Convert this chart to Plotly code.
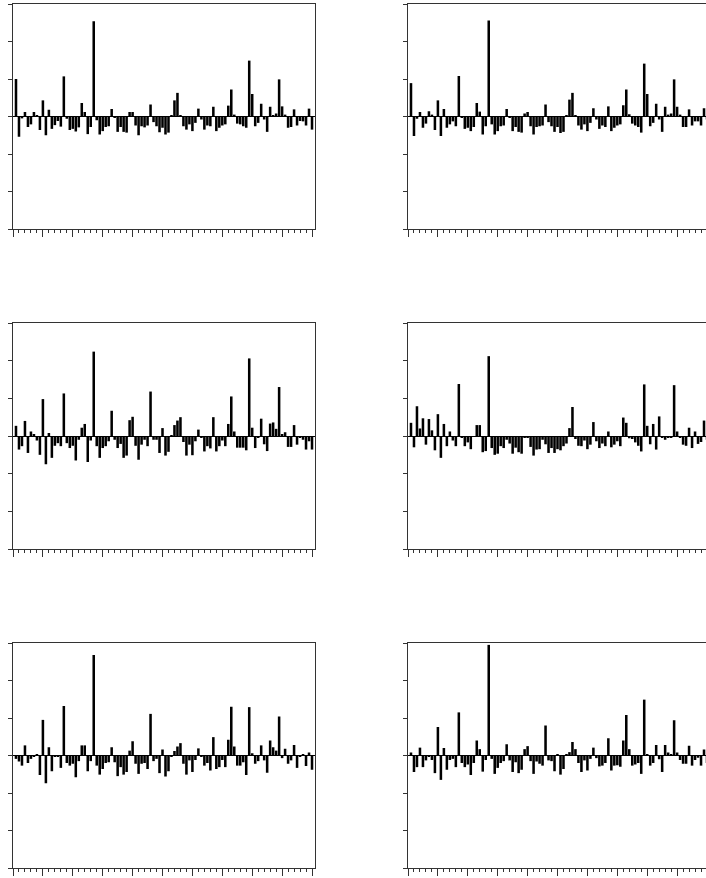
import plotly.graph_objects as go

# ---- data ----
periods = list(range(100))

panel_a = [1.0, -0.54, -0.05, 0.12, -0.28, -0.21, 0.12, 0.03, -0.36, 0.43,
           -0.5, 0.18, -0.33, -0.23, -0.12, -0.27, 1.07, -0.06, -0.36, -0.33,
           -0.4, -0.29, 0.36, 0.12, -0.47, -0.28, 2.54, -0.1, -0.48, -0.39,
           -0.28, -0.26, 0.2, -0.02, -0.41, -0.28, -0.41, -0.43, 0.12, 0.12,
           -0.24, -0.5, -0.26, -0.29, -0.24, 0.32, -0.15, -0.26, -0.42, -0.3,
           -0.48, -0.43, 0.03, 0.43, 0.63, 0.02, -0.26, -0.35, -0.21, -0.39,
           -0.17, 0.21, -0.08, -0.35, -0.24, -0.26, 0.26, -0.39, -0.3, -0.24,
           -0.21, 0.29, 0.72, 0.05, -0.19, -0.21, -0.26, -0.3, 1.49, 0.6,
           -0.26, -0.17, 0.34, -0.08, -0.41, 0.26, 0.03, 0.08, 0.99, 0.27,
           0.05, -0.3, -0.28, 0.19, -0.24, -0.12, -0.13, -0.24, 0.21, -0.35]

panel_b = [0.89, -0.52, -0.06, 0.12, -0.3, -0.19, 0.14, 0.05, -0.36, 0.43,
           -0.52, 0.2, -0.3, -0.21, -0.13, -0.26, 1.08, -0.04, -0.33, -0.3,
           -0.39, -0.28, 0.36, 0.13, -0.48, -0.26, 2.56, -0.21, -0.48, -0.39,
           -0.26, -0.24, 0.2, -0.02, -0.39, -0.28, -0.41, -0.43, 0.08, 0.12,
           -0.26, -0.48, -0.28, -0.26, -0.24, 0.32, -0.15, -0.26, -0.41, -0.28,
           -0.44, -0.41, 0.04, 0.45, 0.63, 0.02, -0.24, -0.35, -0.21, -0.39,
           -0.17, 0.22, -0.08, -0.33, -0.24, -0.28, 0.27, -0.39, -0.3, -0.24,
           -0.21, 0.3, 0.72, 0.06, -0.19, -0.24, -0.28, -0.43, 1.41, 0.6,
           -0.26, -0.17, 0.34, -0.08, -0.41, 0.26, 0.05, 0.08, 0.99, 0.26,
           0.05, -0.28, -0.28, 0.19, -0.24, -0.13, -0.13, -0.24, 0.22, -0.08]

panel_c = [0.27, -0.36, -0.27, 0.4, -0.45, 0.12, 0.04, -0.12, -0.5, 0.98,
           -0.75, 0.08, -0.58, -0.26, -0.19, -0.27, 1.13, -0.19, -0.32, -0.26,
           -0.65, -0.1, 0.22, 0.32, -0.69, -0.12, 2.24, -0.27, -0.58, -0.32,
           -0.27, -0.14, 0.67, -0.1, -0.32, -0.21, -0.58, -0.52, 0.42, 0.51,
           -0.26, -0.63, -0.23, -0.1, -0.27, 1.18, -0.1, -0.1, -0.45, 0.21,
           -0.52, -0.42, 0.02, 0.29, 0.41, 0.5, -0.16, -0.52, -0.23, -0.51,
           -0.14, 0.17, -0.05, -0.41, -0.27, -0.33, 0.5, -0.41, -0.27, -0.12,
           -0.27, 0.32, 1.05, 0.12, -0.31, -0.31, -0.31, -0.38, 2.06, 0.22,
           -0.32, -0.05, 0.46, -0.22, -0.4, 0.33, 0.36, 0.19, 1.3, 0.05,
           0.1, -0.29, -0.29, 0.29, -0.23, -0.05, -0.1, -0.36, -0.14, -0.36]

panel_d = [0.35, -0.3, 0.79, 0.2, 0.47, -0.23, 0.45, 0.15, -0.38, 0.58,
           -0.58, 0.32, -0.27, 0.12, -0.12, -0.27, 1.38, -0.04, -0.27, -0.17,
           -0.35, 0.0, 0.29, 0.29, -0.43, -0.4, 2.12, -0.32, -0.5, -0.47,
           -0.27, -0.32, -0.1, -0.2, -0.47, -0.31, -0.43, -0.47, -0.05, -0.05,
           -0.29, -0.52, -0.36, -0.35, -0.1, -0.22, -0.45, -0.32, -0.45, -0.35,
           -0.38, -0.27, -0.2, 0.21, 0.77, -0.08, -0.26, -0.27, -0.12, -0.35,
           -0.23, 0.37, -0.14, -0.32, -0.2, -0.27, 0.12, -0.3, -0.23, -0.14,
           -0.27, 0.49, 0.35, -0.06, -0.08, -0.17, -0.26, -0.41, 1.37, 0.27,
           -0.22, 0.32, -0.36, 0.52, -0.04, -0.1, -0.05, -0.04, 1.35, 0.12,
           -0.05, -0.23, -0.26, 0.22, -0.32, 0.12, -0.21, -0.16, 0.41, -0.1]

panel_e = [-0.09, -0.16, -0.27, 0.27, -0.2, -0.09, -0.04, 0.04, -0.52, 0.95,
           -0.74, 0.22, -0.42, -0.03, -0.03, -0.33, 1.32, -0.2, -0.27, -0.22,
           -0.58, -0.15, 0.27, 0.27, -0.42, -0.15, 2.68, -0.27, -0.51, -0.36,
           -0.2, -0.18, 0.22, -0.18, -0.55, -0.31, -0.51, -0.44, 0.13, 0.38,
           -0.22, -0.49, -0.22, -0.2, -0.36, 1.11, -0.15, -0.09, -0.47, 0.16,
           -0.56, -0.42, -0.04, 0.12, 0.24, 0.33, -0.22, -0.51, -0.13, -0.44,
           -0.12, 0.19, -0.04, -0.27, -0.2, -0.4, 0.49, -0.36, -0.31, -0.12,
           -0.31, 0.42, 1.3, 0.24, -0.27, -0.27, -0.18, -0.52, 1.29, 0.06,
           -0.22, -0.15, 0.27, -0.13, -0.46, 0.4, 0.22, 0.13, 1.04, -0.07,
           0.18, -0.22, -0.13, 0.28, -0.33, -0.04, 0.03, -0.28, 0.08, -0.38]

panel_f = [0.08, -0.44, -0.31, 0.21, -0.31, -0.13, -0.04, -0.12, -0.47, 0.76,
           -0.65, 0.2, -0.38, -0.12, -0.09, -0.31, 1.15, -0.2, -0.31, -0.24,
           -0.52, -0.2, 0.4, 0.17, -0.43, -0.12, 2.95, -0.09, -0.49, -0.33,
           -0.2, -0.15, 0.3, -0.13, -0.44, -0.18, -0.47, -0.38, 0.17, 0.25,
           -0.15, -0.49, -0.16, -0.22, -0.27, 0.8, -0.13, -0.15, -0.42, 0.04,
           -0.51, -0.36, 0.04, 0.09, 0.36, 0.17, -0.2, -0.44, -0.13, -0.4,
           -0.09, 0.21, -0.07, -0.29, -0.27, -0.2, 0.46, -0.4, -0.27, -0.26,
           -0.3, 0.4, 1.08, 0.17, -0.27, -0.24, -0.2, -0.49, 1.49, 0.04,
           -0.27, -0.2, 0.28, -0.1, -0.44, 0.28, 0.08, 0.03, 0.94, 0.08,
           -0.12, -0.22, -0.22, 0.26, -0.27, -0.12, -0.06, -0.27, 0.16, -0.2]

panels = [panel_a, panel_b, panel_c, panel_d, panel_e, panel_f]

# ---- layout geometry ----
W, H = 706, 878
ML, MR, MT, MB = 13, 0, 4, 10
pw, ph = W - ML - MR, H - MT - MB


def xdom(x0, x1):
    return [(x0 - ML) / pw, min(1.0, (x1 - ML) / pw)]


def ydom(top, bottom):
    return [(H - MB - bottom) / ph, (H - MB - top) / ph]


col_px = [(13, 315), (408, 706)]
row_px = [(4, 229), (323, 549), (643, 868)]
x_left_range = [-1, 100]
units_per_px = (x_left_range[1] - x_left_range[0]) / (col_px[0][1] - col_px[0][0])

LINE = "#333333"
fig = go.Figure()
layout = dict(
    width=W, height=H,
    margin=dict(l=ML, r=MR, t=MT, b=MB, pad=0),
    paper_bgcolor="white", plot_bgcolor="white",
    showlegend=False, bargap=0.15,
)

for k, vals in enumerate(panels):
    r, c = divmod(k, 2)
    n = k + 1
    xa = "x" if n == 1 else f"x{n}"
    ya = "y" if n == 1 else f"y{n}"
    fig.add_trace(go.Bar(x=periods, y=vals, marker=dict(color="#000000", line=dict(width=0)),
                         xaxis=xa, yaxis=ya, hoverinfo="skip"))
    x0p, x1p = col_px[c]
    xr = [x_left_range[0], x_left_range[0] + (x1p - x0p) * units_per_px]
    layout[f"xaxis{'' if n == 1 else n}"] = dict(
        domain=xdom(x0p, x1p), anchor=ya, range=xr,
        showline=True, linecolor=LINE, linewidth=1, mirror=True,
        showgrid=False, zeroline=False, showticklabels=False,
        ticks="outside", tick0=-1, dtick=10, ticklen=7, tickcolor=LINE, tickwidth=1,
        minor=dict(ticks="outside", tick0=-1, dtick=2, ticklen=3, tickcolor=LINE, tickwidth=1),
        fixedrange=True,
    )
    layout[f"yaxis{'' if n == 1 else n}"] = dict(
        domain=ydom(*row_px[r]), anchor=xa, range=[-3, 3],
        showline=True, linecolor=LINE, linewidth=1, mirror=(c == 0),
        showgrid=False, zeroline=True, zerolinecolor="#000000", zerolinewidth=1,
        showticklabels=False, ticks="outside", tick0=0, dtick=1, ticklen=4,
        tickcolor=LINE, tickwidth=1, fixedrange=True,
    )

fig.update_layout(**layout)
fig.write_html(
    "out.html",
    config={"displayModeBar": False},
    post_script="document.body.style.margin='0';document.body.style.overflow='hidden';",
)
